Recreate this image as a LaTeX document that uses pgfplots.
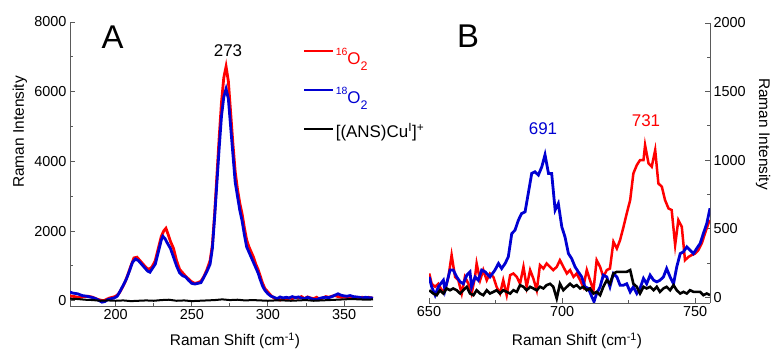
\documentclass[border=0pt]{standalone}
\usepackage{fontspec}
\setmainfont{Liberation Sans}
\usepackage{pgfplots}
\pgfplotsset{compat=1.18}
\definecolor{myred}{RGB}{255,0,0}
\definecolor{myblue}{RGB}{0,0,210}
\definecolor{axgray}{RGB}{90,90,90}
\newcommand{\isoO}[1]{\raisebox{9bp}{\fontsize{10.5}{12}\selectfont #1}O\raisebox{-6bp}{\fontsize{12.5}{14}\selectfont 2}}
\begin{document}
\begin{tikzpicture}
\useasboundingbox (0,0) rectangle (771bp,351bp);
\pgfplotsset{
  common/.style={
    scale only axis,
    anchor=south west,
    axis line style={axgray, line width=0.9bp, -},
    every tick/.style={axgray, line width=0.9bp},
    major tick length=5bp, minor tick length=3bp,
    tick align=inside,
    minor tick num=1,
    ticklabel style={font=\fontsize{14.5}{16}\selectfont},
    /pgf/number format/assume math mode=true,
    /pgf/number format/1000 sep={},
  }
}
% ---------------- Panel A ----------------
\begin{axis}[common,
  at={(70bp,45bp)}, width=303bp, height=284bp,
  xmin=170, xmax=369, ymin=-150, ymax=8000,
  axis x line*=bottom, axis y line*=left,
  xtick={200,250,300,350}, ytick={0,2000,4000,6000,8000},
  legend style={draw=none, fill=none, at={(0.769,0.905)}, anchor=north west,
    inner sep=0pt, outer sep=0pt, row sep=17bp, column sep=1bp,
    font=\fontsize{17}{19}\selectfont,
    nodes={inner sep=0pt, text height=16bp, text depth=6bp, anchor=base west}},
  legend cell align=left,
  legend image code/.code={\draw[#1] (0bp,14bp) -- (29bp,14bp);},
]
\addplot[myred, line width=2.8bp] coordinates {
(170,140)(173,120)(176,90)(179,120)(182,130)(185,100)(188,40)(190,20)(192,0)(194,40)(196,80)(198,100)(200,130)(202,200)(204,350)(206,520)(208,750)(210,1000)(212,1230)(214,1250)(216,1150)(218,1050)(220,950)(222,900)(224,980)(226,1150)(228,1500)(230,1850)(231.5,2000)(233,2080)(234.5,1900)(236,1700)(238,1500)(240,1150)(242,900)(244,800)(246,700)(248,620)(250,540)(252,500)(254,520)(256,560)(258,700)(260,900)(262,1150)(263.5,1600)(265,2500)(266.5,3600)(268,4700)(269.5,5700)(271,6400)(272.5,6720)(274,6300)(275.5,5400)(277,4500)(278.5,3700)(280,3200)(281.5,2800)(283,2500)(284.5,2100)(286,1750)(287.5,1550)(289,1400)(290.5,1250)(292,1050)(293.5,900)(295,700)(296.5,500)(298,350)(300,250)(302,150)(304,80)(306,40)(308,20)(310,60)(312,40)(314,80)(316,60)(318,100)(320,80)(322,120)(324,60)(326,110)(328,80)(330,60)(332,100)(334,40)(336,80)(338,120)(340,100)(342,130)(344,150)(346,120)(348,100)(350,110)(352,90)(354,100)(356,80)(358,100)(360,90)(362,100)(364,80)(366,100)(369,70)
};
\addlegendentry{\textcolor{myred}{\isoO{16}}}
\addplot[myblue, line width=2.8bp] coordinates {
(170,250)(172,220)(175,200)(178,150)(181,130)(184,100)(187,60)(189,10)(191,-40)(193,-20)(195,40)(197,60)(199,80)(201,130)(203,280)(205,450)(207,620)(209,850)(211,1100)(213,1200)(215,1150)(217,1050)(219,950)(221,850)(222.5,820)(224,920)(226,1050)(228,1400)(230,1750)(231,1850)(232.5,1780)(234,1650)(236,1500)(238,1250)(240,1000)(242,800)(244,720)(246,680)(248,580)(250,500)(252,480)(254,500)(256,520)(258,680)(260,850)(262,1050)(263.5,1500)(265,2400)(266.5,3400)(268,4400)(269.5,5300)(271,5850)(272.5,6080)(274,5800)(275.5,5000)(277,4200)(278.5,3400)(280,3000)(281.5,2600)(283,2300)(284.5,1900)(286,1550)(287.5,1400)(289,1250)(290.5,1100)(292,950)(293.5,800)(295,600)(296.5,420)(298,300)(300,200)(302,130)(304,100)(306,60)(308,110)(310,80)(312,100)(314,80)(316,120)(318,90)(320,110)(322,80)(324,60)(326,100)(328,70)(330,40)(332,30)(334,70)(336,90)(338,100)(340,90)(342,120)(344,160)(346,200)(348,160)(350,140)(352,130)(354,150)(356,120)(358,110)(360,100)(362,80)(364,100)(366,90)(369,80)
};
\addlegendentry{\textcolor{myblue}{\isoO{18}}}
\addplot[black, line width=2bp] coordinates {
(170,60)(175,50)(180,30)(185,20)(190,0)(195,10)(200,0)(205,10)(210,-10)(215,0)(220,10)(225,0)(230,20)(235,30)(240,0)(245,10)(250,-10)(255,0)(260,10)(265,20)(270,40)(275,20)(280,30)(285,10)(290,20)(295,10)(300,0)(305,10)(310,10)(315,0)(320,10)(325,20)(330,0)(335,10)(340,20)(345,30)(350,40)(355,50)(360,40)(365,30)(369,40)
};
\addlegendentry{\raisebox{5bp}{[(ANS)Cu\textsuperscript{I}]\textsuperscript{+}}}
\end{axis}
% ---------------- Panel B ----------------
\begin{axis}[common,
  at={(429bp,48bp)}, width=281bp, height=280bp,
  xmin=650, xmax=755.6, ymin=-40, ymax=2000,
  axis x line*=bottom, axis y line*=right,
  xtick={650,700,750}, ytick={0,500,1000,1500,2000},
]
\addplot[myred, line width=2.5bp] coordinates {
(650.1,175)(651.0,100)(652.3,78)(653.5,100)(654.8,53)(656.0,53)(657.3,150)(658.5,309)(659.8,150)(661.0,126)(662.3,29)(663.5,150)(664.8,100)(666.0,29)(667.3,150)(667.9,248)(669.2,126)(670.4,200)(671.7,126)(672.9,175)(674.2,150)(675.4,78)(676.7,29)(677.9,126)(679.2,17)(680.5,163)(681.7,175)(683.0,150)(684.2,100)(685.5,223)(686.7,78)(688.0,200)(689.2,139)(690.5,53)(691.7,236)(693.0,211)(694.2,248)(695.5,223)(696.7,200)(698.0,223)(699.2,272)(700.5,223)(701.8,175)(703.0,200)(704.3,150)(705.5,175)(706.8,126)(708.0,78)(709.3,200)(710.5,126)(711.8,53)(713.0,272)(714.3,223)(715.5,150)(716.8,200)(718.0,211)(719.3,406)(720.6,357)(721.8,418)(723.1,515)(724.3,612)(725.6,710)(726.8,904)(728.1,965)(729.3,1001)(730.6,1001)(731.2,1110)(732.5,977)(733.7,953)(735.0,1074)(736.2,831)(737.5,807)(738.7,710)(740.0,649)(741.2,637)(742.5,382)(743.7,564)(745.0,515)(746.2,272)(747.5,296)(748.7,309)(750.0,320)(751.2,345)(752.5,394)(753.7,466)(755.0,540)(755.6,564)
};
\addplot[myblue, line width=2.8bp] coordinates {
(650.1,150)(651.0,78)(652.3,17)(653.5,78)(655.4,126)(656.0,53)(657.9,200)(659.1,200)(660.4,150)(661.7,114)(662.9,100)(664.2,163)(665.4,187)(666.0,78)(667.3,150)(668.5,126)(669.8,200)(671.1,187)(672.9,150)(674.8,200)(676.1,248)(677.3,211)(678.6,248)(679.8,296)(681.1,466)(682.3,490)(683.6,564)(684.8,612)(686.1,624)(687.3,758)(688.6,904)(689.8,916)(691.1,892)(692.4,953)(693.6,1040)(694.9,904)(696.1,904)(697.4,637)(698.6,685)(699.9,515)(701.1,442)(702.4,320)(703.6,284)(704.9,223)(706.1,187)(707.4,150)(708.6,78)(709.9,66)(711.2,5)(712.0,-30)(713.0,29)(714.3,78)(715.5,163)(716.8,150)(718.0,78)(719.3,175)(720.6,150)(721.8,90)(723.1,90)(724.3,100)(725.6,41)(726.8,78)(728.1,29)(729.3,66)(730.6,139)(731.8,100)(733.1,163)(734.4,126)(735.6,114)(736.8,126)(738.1,150)(739.3,211)(740.6,150)(741.9,100)(743.1,223)(744.4,320)(745.6,333)(746.9,369)(748.1,345)(749.4,320)(750.6,357)(751.9,394)(753.1,466)(754.4,540)(755.6,650)
};
\addplot[black, line width=2.6bp] coordinates {
(650.1,53)(651.6,29)(652.9,17)(654.1,53)(655.4,29)(656.6,66)(657.9,53)(659.1,66)(660.4,53)(661.7,29)(662.9,53)(664.2,78)(665.4,29)(666.7,17)(667.9,53)(669.2,29)(670.4,17)(671.7,53)(672.9,29)(674.2,41)(675.4,53)(676.7,29)(677.9,53)(679.2,41)(680.5,29)(681.7,53)(683.0,41)(684.2,90)(685.5,78)(686.7,53)(688.0,78)(689.2,66)(690.5,53)(691.7,78)(693.0,66)(694.2,90)(695.5,100)(696.7,78)(698.0,-7)(699.2,100)(700.5,53)(701.8,78)(703.0,100)(704.3,78)(705.5,90)(706.8,66)(708.0,78)(709.3,53)(710.5,66)(711.8,29)(713.0,41)(714.3,17)(715.5,78)(716.8,126)(718.0,100)(719.3,175)(720.6,187)(721.8,187)(723.1,187)(724.3,187)(725.6,200)(726.8,100)(728.1,78)(729.3,29)(730.6,78)(731.8,66)(733.1,78)(734.4,53)(735.6,78)(736.8,41)(738.1,66)(739.3,78)(740.6,53)(741.9,90)(743.1,53)(744.4,29)(745.6,41)(746.9,29)(748.1,53)(749.4,41)(750.6,41)(751.9,41)(753.1,17)(754.4,29)(755.6,17)
};
\end{axis}
% ---------------- Labels and annotations ----------------
\node[rotate=90, font=\fontsize{15.5}{18}\selectfont] at (20bp,219bp) {Raman Intensity};
\node[rotate=-90, font=\fontsize{15.5}{18}\selectfont] at (763bp,217bp) {Raman Intensity};
\node[anchor=base, font=\fontsize{15.5}{18}\selectfont] at (235bp,5.5bp) {Raman Shift (cm\textsuperscript{-1})};
\node[anchor=base, font=\fontsize{15.5}{18}\selectfont] at (577bp,5.5bp) {Raman Shift (cm\textsuperscript{-1})};
\node[font=\fontsize{33}{36}\selectfont, inner sep=0pt] at (112.5bp,313.5bp) {A};
\node[font=\fontsize{33}{36}\selectfont, inner sep=0pt] at (468bp,315bp) {B};
\node[font=\fontsize{17}{19}\selectfont, inner sep=0pt] at (228bp,300bp) {273};
\node[font=\fontsize{17}{19}\selectfont, inner sep=0pt, text=myblue] at (543bp,222.5bp) {691};
\node[font=\fontsize{17}{19}\selectfont, inner sep=0pt, text=myred] at (646bp,230bp) {731};
\end{tikzpicture}
\end{document}
